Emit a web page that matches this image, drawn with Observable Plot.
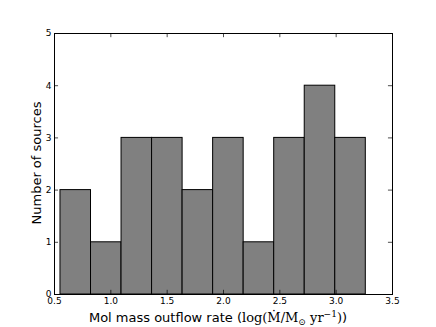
<!DOCTYPE html>
<html>
<head>
<meta charset="utf-8">
<script src="https://cdn.jsdelivr.net/npm/d3@7"></script>
<script src="https://cdn.jsdelivr.net/npm/@observablehq/plot@0.6"></script>
<style>
  body { margin: 0; background: white; }
</style>
</head>
<body>
<div id="chart"></div>
<script>
// Histogram bin edges (log Mdot) and counts per bin
const binEdges = [0.553, 0.824, 1.095, 1.366, 1.637, 1.908, 2.179, 2.450, 2.721, 2.992, 3.263];
const counts = [2, 1, 3, 3, 2, 3, 1, 3, 4, 3];
const xTicks = [0.5, 1.0, 1.5, 2.0, 2.5, 3.0, 3.5];
const yTicks = [0, 1, 2, 3, 4, 5];
const yLabel = "Number of sources";

const bins = counts.map((c, i) => ({x1: binEdges[i], x2: binEdges[i + 1], count: c}));

const chart = Plot.plot({
  width: 436,
  height: 327,
  marginLeft: 54,
  marginRight: 44,
  marginTop: 33,
  marginBottom: 33,
  x: {domain: [0.5, 3.5]},
  y: {domain: [0, 5]},
  style: {fontFamily: "DejaVu Sans", fontSize: "9px", background: "white", color: "black"},
  marks: [
    Plot.rectY(bins, {x1: "x1", x2: "x2", y: "count", fill: "#808080", stroke: "black", strokeWidth: 1}),
    Plot.ruleX(xTicks, {x: d => d, y1: 0, y2: 0.08, stroke: "black", strokeWidth: 0.7}),
    Plot.ruleX(xTicks, {x: d => d, y1: 5, y2: 4.92, stroke: "black", strokeWidth: 0.7}),
    Plot.ruleY(yTicks, {y: d => d, x1: 0.5, x2: 0.536, stroke: "black", strokeWidth: 0.7}),
    Plot.ruleY(yTicks, {y: d => d, x1: 3.5, x2: 3.464, stroke: "black", strokeWidth: 0.7}),
    Plot.frame({stroke: "black", strokeWidth: 1}),
    Plot.axisX(xTicks, {tickSize: 0, tickPadding: 3, tickFormat: d3.format(".1f"), label: null}),
    Plot.axisY(yTicks, {tickSize: 0, tickPadding: 3, tickFormat: d3.format("d"), label: null})
  ]
});

document.getElementById("chart").appendChild(chart);

const svg = d3.select(chart);

// y-axis label
svg.append("text")
  .attr("transform", "translate(41,163) rotate(-90)")
  .attr("text-anchor", "middle")
  .style("font-size", "13px")
  .style("font-family", "DejaVu Sans")
  .attr("fill", "black")
  .text(yLabel);

// x-axis label with mixed sans / math (serif) text
const t = svg.append("text")
  .attr("x", 218)
  .attr("y", 322)
  .attr("text-anchor", "middle")
  .style("font-size", "13px")
  .style("font-family", "DejaVu Sans")
  .attr("fill", "black");
t.append("tspan").text("Mol mass outflow rate (");
t.append("tspan").style("font-family", "DejaVu Serif").text("log(Ṁ/M");
t.append("tspan").style("font-family", "DejaVu Serif").style("font-size", "9px").attr("dy", 3).text("⊙");
t.append("tspan").style("font-family", "DejaVu Serif").attr("dy", -3).text(" yr");
t.append("tspan").style("font-family", "DejaVu Serif").style("font-size", "9px").attr("dy", -5).text("−1");
t.append("tspan").style("font-family", "DejaVu Serif").attr("dy", 5).text(")");
t.append("tspan").text(")");
</script>
</body>
</html>
